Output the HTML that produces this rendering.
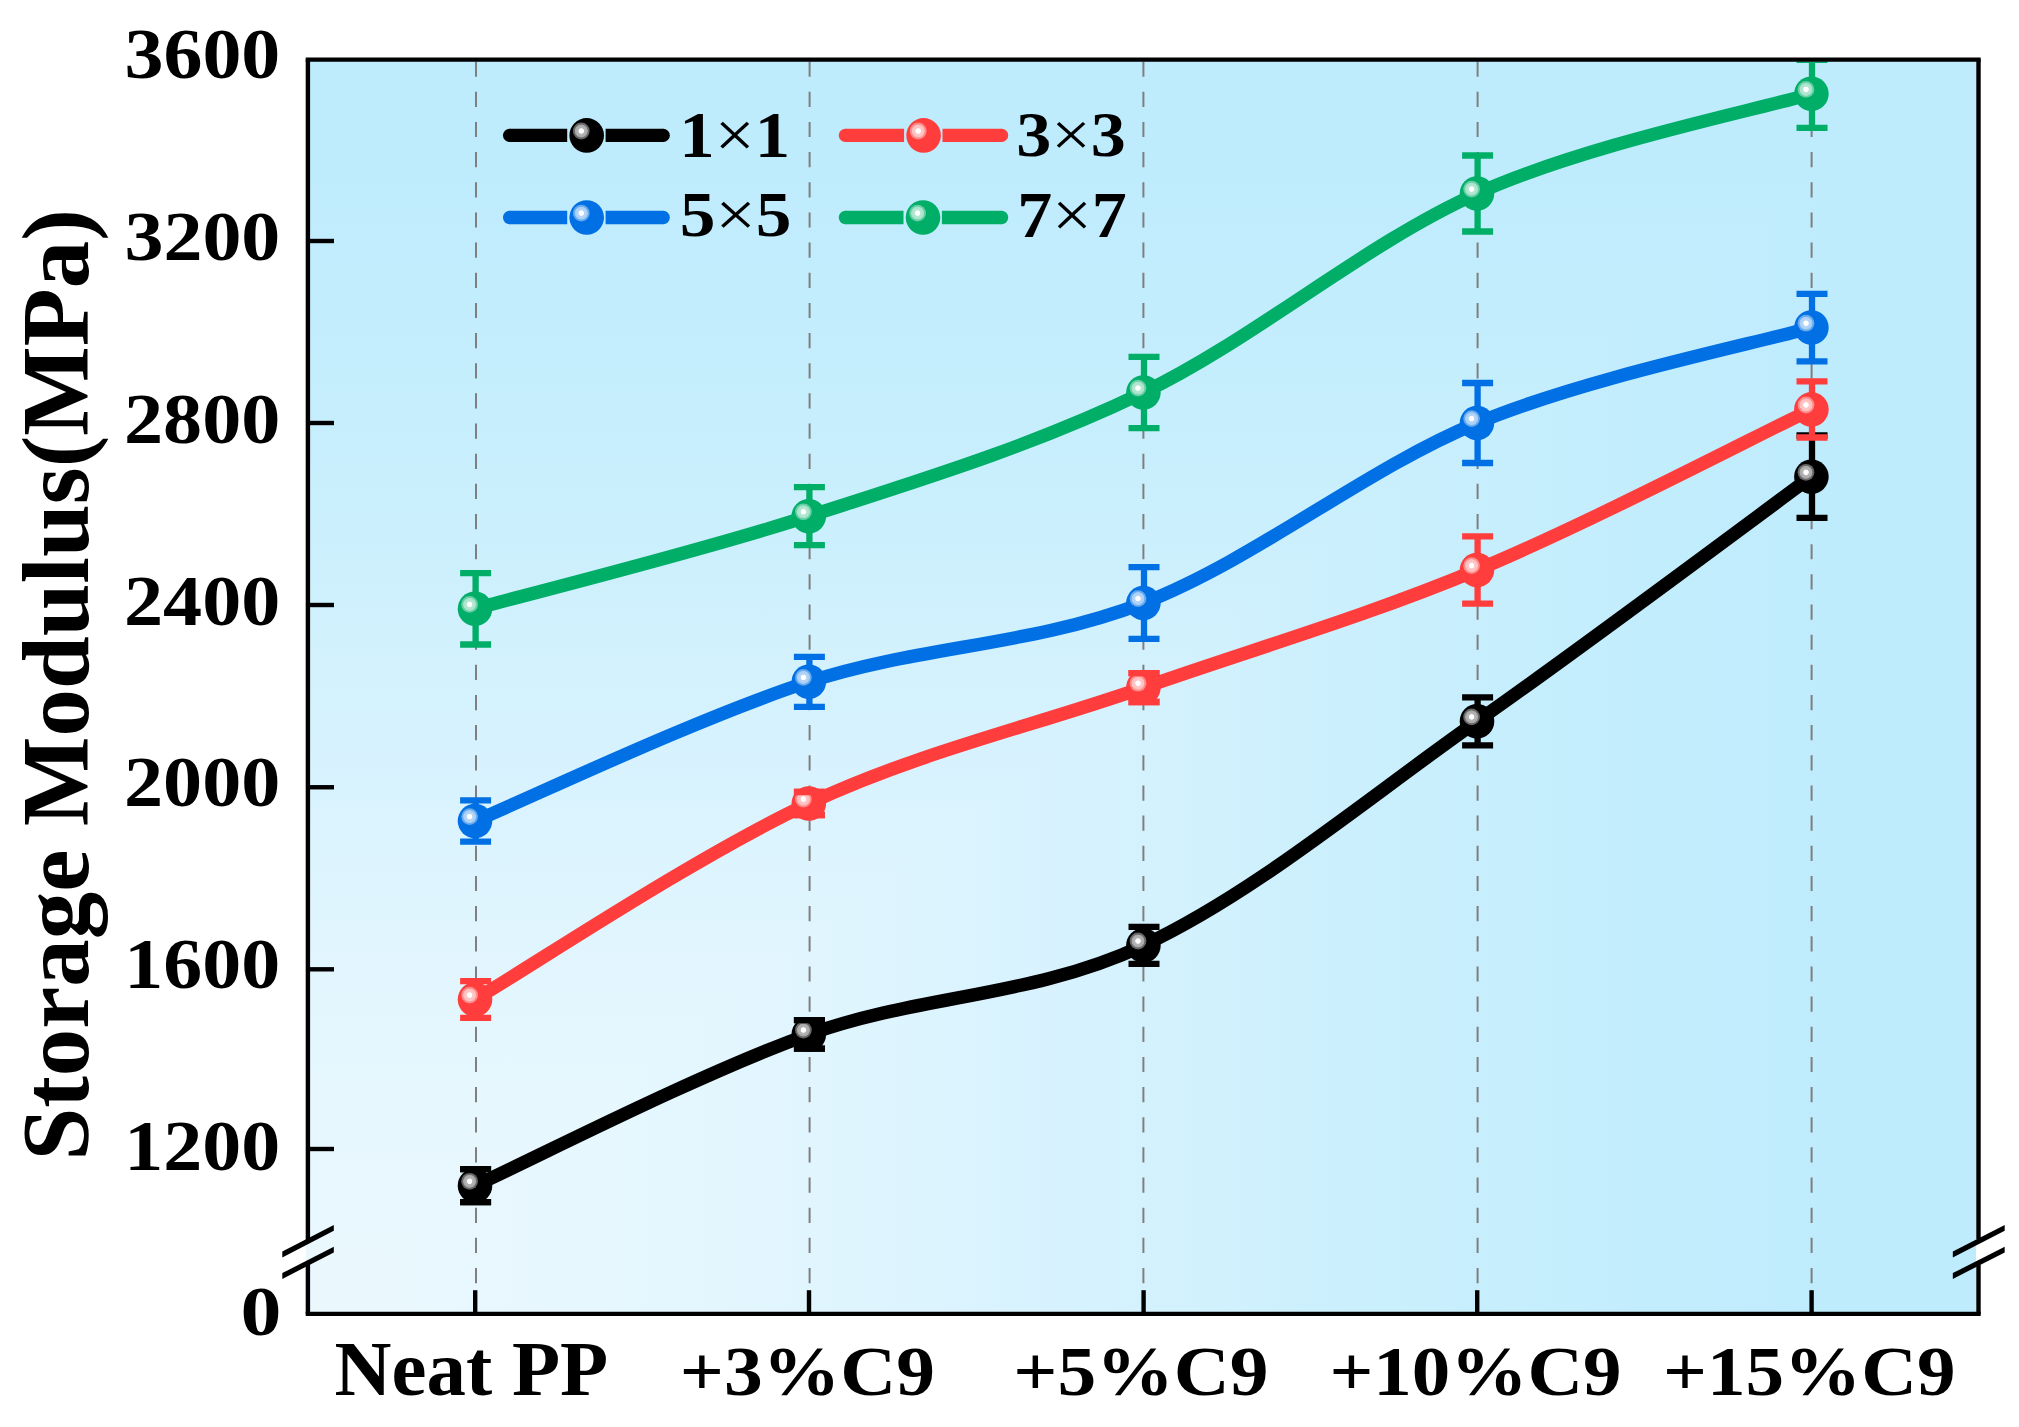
<!DOCTYPE html>
<html lang="en"><head><meta charset="utf-8"><title>Storage Modulus</title>
<style>
html,body{margin:0;padding:0;background:#fff;}
body{width:2019px;height:1427px;overflow:hidden;}
svg{display:block;}
text{font-family:"Liberation Serif","Times New Roman",serif;font-weight:bold;font-size:100px;fill:#000;}
</style></head><body>
<svg width="2019" height="1427" viewBox="0 0 2019 1427">
<defs>
<linearGradient id="gh" gradientUnits="userSpaceOnUse" x1="307.9" y1="0" x2="1978.5" y2="0">
<stop offset="0.0" stop-color="#eaf8fe"/>
<stop offset="0.0417" stop-color="#eaf8fe"/>
<stop offset="0.0833" stop-color="#e9f8fe"/>
<stop offset="0.125" stop-color="#e8f7fe"/>
<stop offset="0.1667" stop-color="#e7f7fe"/>
<stop offset="0.2083" stop-color="#e5f7fe"/>
<stop offset="0.25" stop-color="#e3f6fe"/>
<stop offset="0.2917" stop-color="#e1f5fe"/>
<stop offset="0.3333" stop-color="#def5fe"/>
<stop offset="0.375" stop-color="#dcf4fe"/>
<stop offset="0.4167" stop-color="#d9f3fe"/>
<stop offset="0.4583" stop-color="#d6f2fe"/>
<stop offset="0.5" stop-color="#d4f2fd"/>
<stop offset="0.5417" stop-color="#d1f1fd"/>
<stop offset="0.5833" stop-color="#cef0fd"/>
<stop offset="0.625" stop-color="#cbeffd"/>
<stop offset="0.6667" stop-color="#c9effd"/>
<stop offset="0.7083" stop-color="#c7eefd"/>
<stop offset="0.75" stop-color="#c5eefd"/>
<stop offset="0.7917" stop-color="#c3edfd"/>
<stop offset="0.8333" stop-color="#c1edfd"/>
<stop offset="0.875" stop-color="#c0ecfd"/>
<stop offset="0.9167" stop-color="#bfecfd"/>
<stop offset="0.9583" stop-color="#bfecfd"/>
<stop offset="1.0" stop-color="#bfecfd"/>
</linearGradient>
<linearGradient id="gv" gradientUnits="userSpaceOnUse" x1="0" y1="1313.9" x2="0" y2="59.6">
<stop offset="0.0" stop-color="#eaf8fe"/>
<stop offset="0.0417" stop-color="#eaf8fe"/>
<stop offset="0.0833" stop-color="#e9f8fe"/>
<stop offset="0.125" stop-color="#e8f7fe"/>
<stop offset="0.1667" stop-color="#e7f7fe"/>
<stop offset="0.2083" stop-color="#e5f7fe"/>
<stop offset="0.25" stop-color="#e3f6fe"/>
<stop offset="0.2917" stop-color="#e1f5fe"/>
<stop offset="0.3333" stop-color="#def5fe"/>
<stop offset="0.375" stop-color="#dcf4fe"/>
<stop offset="0.4167" stop-color="#d9f3fe"/>
<stop offset="0.4583" stop-color="#d6f2fe"/>
<stop offset="0.5" stop-color="#d4f2fd"/>
<stop offset="0.5417" stop-color="#d1f1fd"/>
<stop offset="0.5833" stop-color="#cef0fd"/>
<stop offset="0.625" stop-color="#cbeffd"/>
<stop offset="0.6667" stop-color="#c9effd"/>
<stop offset="0.7083" stop-color="#c7eefd"/>
<stop offset="0.75" stop-color="#c5eefd"/>
<stop offset="0.7917" stop-color="#c3edfd"/>
<stop offset="0.8333" stop-color="#c1edfd"/>
<stop offset="0.875" stop-color="#c0ecfd"/>
<stop offset="0.9167" stop-color="#bfecfd"/>
<stop offset="0.9583" stop-color="#bfecfd"/>
<stop offset="1.0" stop-color="#bfecfd"/>
</linearGradient>
<radialGradient id="hl" cx="0.5" cy="0.5" r="0.5">
<stop offset="0" stop-color="#fff" stop-opacity="1"/>
<stop offset="0.28" stop-color="#fff" stop-opacity="1"/>
<stop offset="0.36" stop-color="#fff" stop-opacity="0.72"/>
<stop offset="0.72" stop-color="#fff" stop-opacity="0.66"/>
<stop offset="0.8" stop-color="#fff" stop-opacity="0.42"/>
<stop offset="1" stop-color="#fff" stop-opacity="0.38"/>
</radialGradient>
<clipPath id="plotclip"><rect x="305.7" y="61.50000000000001" width="1675.0" height="1254.3000000000002"/></clipPath>
</defs>
<rect width="2019" height="1427" fill="#fff"/>

<g id="bg">
<rect x="305.9" y="59.6" width="1670.6" height="1254.3000000000002" fill="url(#gv)"/>
<polygon points="305.9,1313.9 1976.5,1313.9 1976.5,59.6" fill="url(#gh)"/>
</g>
<g id="vgrid" stroke="#7f7f7f" stroke-width="2" stroke-dasharray="15.2 14.96" fill="none">
<line x1="476.0" y1="61.6" x2="476.0" y2="1313.9"/>
<line x1="809.6" y1="61.6" x2="809.6" y2="1313.9"/>
<line x1="1143.4" y1="61.6" x2="1143.4" y2="1313.9"/>
<line x1="1477.6" y1="61.6" x2="1477.6" y2="1313.9"/>
<line x1="1811.6" y1="61.6" x2="1811.6" y2="1313.9"/>
</g>
<g id="data" clip-path="url(#plotclip)">
<g id="s-black">
<g stroke="#000000" stroke-width="6.3" fill="none">
<path d="M475.6,1169.2 V1202.2 M460.1,1169.2 h31 M460.1,1202.2 h31"/>
<path d="M809.4,1020.1 V1048.7 M793.9,1020.1 h31 M793.9,1048.7 h31"/>
<path d="M1144.0,926.9 V963.9 M1128.5,926.9 h31 M1128.5,963.9 h31"/>
<path d="M1477.6,697.3 V745.3 M1462.1,697.3 h31 M1462.1,745.3 h31"/>
<path d="M1812.0,435.5 V517.9 M1796.5,435.5 h31 M1796.5,517.9 h31"/>
</g>
<path d="M475.0,1185.7 C530.6,1160.5 697.4,1074.5 808.8,1034.4 C920.2,994.4 1032.0,997.6 1143.4,945.4 C1254.8,893.2 1365.7,799.4 1477.0,721.3 C1588.3,643.2 1755.7,517.5 1811.4,476.7" stroke="#000000" stroke-width="13.3" fill="none" stroke-linejoin="round"/>
<circle cx="475.0" cy="1185.7" r="17.3" fill="#000000"/><circle cx="469.6" cy="1181.3" r="8.4" fill="url(#hl)"/>
<circle cx="808.8" cy="1034.4" r="17.3" fill="#000000"/><circle cx="803.4" cy="1030.0" r="8.4" fill="url(#hl)"/>
<circle cx="1143.4" cy="945.4" r="17.3" fill="#000000"/><circle cx="1138.0" cy="941.0" r="8.4" fill="url(#hl)"/>
<circle cx="1477.0" cy="721.3" r="17.3" fill="#000000"/><circle cx="1471.6" cy="716.9" r="8.4" fill="url(#hl)"/>
<circle cx="1811.4" cy="476.7" r="17.3" fill="#000000"/><circle cx="1806.0" cy="472.3" r="8.4" fill="url(#hl)"/>
<path d="M460.1,1169.2 h31 M460.1,1202.2 h31 M793.9,1020.1 h31 M793.9,1048.7 h31" stroke="#000000" stroke-width="6.3" fill="none"/>
</g>
<g id="s-red">
<g stroke="#ff3d3d" stroke-width="6.3" fill="none">
<path d="M475.6,981.1 V1017.9 M460.1,981.1 h31 M460.1,1017.9 h31"/>
<path d="M809.4,792.0 V815.0 M793.9,792.0 h31 M793.9,815.0 h31"/>
<path d="M1144.0,673.2 V702.0 M1128.5,673.2 h31 M1128.5,702.0 h31"/>
<path d="M1477.6,536.3 V603.7 M1462.1,536.3 h31 M1462.1,603.7 h31"/>
<path d="M1812.0,381.3 V437.5 M1796.5,381.3 h31 M1796.5,437.5 h31"/>
</g>
<path d="M475.0,999.5 C530.6,966.8 697.4,855.5 808.8,803.5 C920.2,751.5 1032.0,726.5 1143.4,687.6 C1254.8,648.7 1365.7,616.4 1477.0,570.0 C1588.3,523.6 1755.7,436.2 1811.4,409.4" stroke="#ff3d3d" stroke-width="13.3" fill="none" stroke-linejoin="round"/>
<circle cx="475.0" cy="999.5" r="17.3" fill="#ff3d3d"/><circle cx="469.6" cy="995.1" r="8.4" fill="url(#hl)"/>
<circle cx="808.8" cy="803.5" r="17.3" fill="#ff3d3d"/><circle cx="803.4" cy="799.1" r="8.4" fill="url(#hl)"/>
<circle cx="1143.4" cy="687.6" r="17.3" fill="#ff3d3d"/><circle cx="1138.0" cy="683.2" r="8.4" fill="url(#hl)"/>
<circle cx="1477.0" cy="570.0" r="17.3" fill="#ff3d3d"/><circle cx="1471.6" cy="565.6" r="8.4" fill="url(#hl)"/>
<circle cx="1811.4" cy="409.4" r="17.3" fill="#ff3d3d"/><circle cx="1806.0" cy="405.0" r="8.4" fill="url(#hl)"/>
<path d="M793.9,792.0 h31 M793.9,815.0 h31 M1128.5,673.2 h31 M1128.5,702.0 h31" stroke="#ff3d3d" stroke-width="6.3" fill="none"/>
</g>
<g id="s-blue">
<g stroke="#0070e4" stroke-width="6.3" fill="none">
<path d="M475.6,800.3 V841.7 M460.1,800.3 h31 M460.1,841.7 h31"/>
<path d="M809.4,656.8 V706.8 M793.9,656.8 h31 M793.9,706.8 h31"/>
<path d="M1144.0,567.2 V638.8 M1128.5,567.2 h31 M1128.5,638.8 h31"/>
<path d="M1477.6,383.0 V463.0 M1462.1,383.0 h31 M1462.1,463.0 h31"/>
<path d="M1812.0,293.9 V361.3 M1796.5,293.9 h31 M1796.5,361.3 h31"/>
</g>
<path d="M475.0,821.0 C530.6,797.8 697.4,718.1 808.8,681.8 C920.2,645.5 1032.0,646.1 1143.4,603.0 C1254.8,559.9 1365.7,468.9 1477.0,423.0 C1588.3,377.1 1755.7,343.5 1811.4,327.6" stroke="#0070e4" stroke-width="13.3" fill="none" stroke-linejoin="round"/>
<circle cx="475.0" cy="821.0" r="17.3" fill="#0070e4"/><circle cx="469.6" cy="816.6" r="8.4" fill="url(#hl)"/>
<circle cx="808.8" cy="681.8" r="17.3" fill="#0070e4"/><circle cx="803.4" cy="677.4" r="8.4" fill="url(#hl)"/>
<circle cx="1143.4" cy="603.0" r="17.3" fill="#0070e4"/><circle cx="1138.0" cy="598.6" r="8.4" fill="url(#hl)"/>
<circle cx="1477.0" cy="423.0" r="17.3" fill="#0070e4"/><circle cx="1471.6" cy="418.6" r="8.4" fill="url(#hl)"/>
<circle cx="1811.4" cy="327.6" r="17.3" fill="#0070e4"/><circle cx="1806.0" cy="323.2" r="8.4" fill="url(#hl)"/>
</g>
<g id="s-green">
<g stroke="#00ae68" stroke-width="6.3" fill="none">
<path d="M475.6,573.1 V644.5 M460.1,573.1 h31 M460.1,644.5 h31"/>
<path d="M809.4,487.2 V545.2 M793.9,487.2 h31 M793.9,545.2 h31"/>
<path d="M1144.0,356.8 V428.2 M1128.5,356.8 h31 M1128.5,428.2 h31"/>
<path d="M1477.6,155.5 V231.5 M1462.1,155.5 h31 M1462.1,231.5 h31"/>
<path d="M1812.0,59.8 V127.8 M1796.5,59.8 h31 M1796.5,127.8 h31"/>
</g>
<path d="M475.0,608.8 C530.6,593.4 697.4,552.2 808.8,516.2 C920.2,480.2 1032.0,446.3 1143.4,392.5 C1254.8,338.7 1365.7,243.3 1477.0,193.5 C1588.3,143.7 1755.7,110.4 1811.4,93.8" stroke="#00ae68" stroke-width="13.3" fill="none" stroke-linejoin="round"/>
<circle cx="475.0" cy="608.8" r="17.3" fill="#00ae68"/><circle cx="469.6" cy="604.4" r="8.4" fill="url(#hl)"/>
<circle cx="808.8" cy="516.2" r="17.3" fill="#00ae68"/><circle cx="803.4" cy="511.8" r="8.4" fill="url(#hl)"/>
<circle cx="1143.4" cy="392.5" r="17.3" fill="#00ae68"/><circle cx="1138.0" cy="388.1" r="8.4" fill="url(#hl)"/>
<circle cx="1477.0" cy="193.5" r="17.3" fill="#00ae68"/><circle cx="1471.6" cy="189.1" r="8.4" fill="url(#hl)"/>
<circle cx="1811.4" cy="93.8" r="17.3" fill="#00ae68"/><circle cx="1806.0" cy="89.4" r="8.4" fill="url(#hl)"/>
</g>
</g>
<g id="legend">
<g><path d="M509.6,135.4 H567.2 M605.6,135.4 H663.2" stroke="#000000" stroke-width="13.3" fill="none"/><circle cx="509.6" cy="135.4" r="6.65" fill="#000000"/><circle cx="663.2" cy="135.4" r="6.65" fill="#000000"/><circle cx="586.7" cy="135.4" r="17.3" fill="#000000"/><circle cx="581.3" cy="131.0" r="8.4" fill="url(#hl)"/><text transform="translate(679.34,156.60) scale(0.7079,0.6485)" >1<tspan font-weight="normal">×</tspan>1</text></g>
<g><path d="M845.4,135.4 H904.1 M942.5,135.4 H1001.6" stroke="#ff3d3d" stroke-width="13.3" fill="none"/><circle cx="845.4" cy="135.4" r="6.65" fill="#ff3d3d"/><circle cx="1001.6" cy="135.4" r="6.65" fill="#ff3d3d"/><circle cx="923.6" cy="135.4" r="17.3" fill="#ff3d3d"/><circle cx="918.2" cy="131.0" r="8.4" fill="url(#hl)"/><text transform="translate(1016.27,155.96) scale(0.7008,0.6364)" >3<tspan font-weight="normal">×</tspan>3</text></g>
<g><path d="M509.6,217.5 H567.2 M605.6,217.5 H663.2" stroke="#0070e4" stroke-width="13.3" fill="none"/><circle cx="509.6" cy="217.5" r="6.65" fill="#0070e4"/><circle cx="663.2" cy="217.5" r="6.65" fill="#0070e4"/><circle cx="586.7" cy="217.5" r="17.3" fill="#0070e4"/><circle cx="581.3" cy="213.1" r="8.4" fill="url(#hl)"/><text transform="translate(679.74,235.96) scale(0.7139,0.6436)" >5<tspan font-weight="normal">×</tspan>5</text></g>
<g><path d="M845.4,217.5 H903.5 M941.9,217.5 H1001.6" stroke="#00ae68" stroke-width="13.3" fill="none"/><circle cx="845.4" cy="217.5" r="6.65" fill="#00ae68"/><circle cx="1001.6" cy="217.5" r="6.65" fill="#00ae68"/><circle cx="923.0" cy="217.5" r="17.3" fill="#00ae68"/><circle cx="917.6" cy="213.1" r="8.4" fill="url(#hl)"/><text transform="translate(1017.27,237.40) scale(0.7002,0.6656)" >7<tspan font-weight="normal">×</tspan>7</text></g>
</g>
<g id="axes" stroke="#000" stroke-width="4.4" fill="none" stroke-linecap="butt">
<path d="M305.7,59.6 H1980.7 M305.7,1313.9 H1980.7"/>
<path d="M307.9,59.6 V1241.3 M307.9,1262.8 V1313.9 M1978.5,59.6 V1241.3 M1978.5,1262.8 V1313.9"/>
<line x1="307.9" y1="241.0" x2="334" y2="241.0"/>
<line x1="307.9" y1="423.0" x2="334" y2="423.0"/>
<line x1="307.9" y1="605.0" x2="334" y2="605.0"/>
<line x1="307.9" y1="787.25" x2="334" y2="787.25"/>
<line x1="307.9" y1="969.3" x2="334" y2="969.3"/>
<line x1="307.9" y1="1149.0" x2="334" y2="1149.0"/>
<line x1="475.2" y1="1313.9" x2="475.2" y2="1290.2"/>
<line x1="809.0" y1="1313.9" x2="809.0" y2="1290.2"/>
<line x1="1143.6000000000001" y1="1313.9" x2="1143.6000000000001" y2="1290.2"/>
<line x1="1477.2" y1="1313.9" x2="1477.2" y2="1290.2"/>
<line x1="1811.6000000000001" y1="1313.9" x2="1811.6000000000001" y2="1290.2"/>
</g>
<rect x="1976.0" y="1239.3" width="7.4" height="25.5" fill="#fff"/>
<g id="breaks" fill="#000" stroke="none">
<polygon points="282.3,1251.6 333.8,1225.0 333.8,1230.8 282.3,1257.4"/>
<polygon points="282.3,1273.1 333.8,1246.7 333.8,1252.5 282.3,1278.9"/>
<polygon points="1952.8,1251.6 2004.7,1225.0 2004.7,1230.8 1952.8,1257.4"/>
<polygon points="1952.8,1273.1 2004.7,1246.7 2004.7,1252.5 1952.8,1278.9"/>
</g>
<g id="yticklabels">
<text transform="translate(124.48,78.39) scale(0.7792,0.7111)" >3600</text>
<text transform="translate(124.48,260.29) scale(0.7792,0.7081)" >3200</text>
<text transform="translate(123.98,443.28) scale(0.7818,0.7244)" >2800</text>
<text transform="translate(123.98,624.98) scale(0.7818,0.7230)" >2400</text>
<text transform="translate(123.98,806.18) scale(0.7818,0.7244)" >2000</text>
<text transform="translate(124.36,988.38) scale(0.7798,0.7185)" >1600</text>
<text transform="translate(124.36,1170.49) scale(0.7798,0.7126)" >1200</text>
<text transform="translate(240.43,1335.10) scale(0.8188,0.7037)" >0</text>
</g>
<g id="xticklabels">
<text transform="translate(334.62,1395.22) scale(0.7883,0.7835)" >Neat PP</text>
<text transform="translate(679.83,1395.02) scale(0.7750,0.7070)" >+3%C9</text>
<text transform="translate(1013.33,1395.02) scale(0.7750,0.7070)" >+5%C9</text>
<text transform="translate(1329.45,1394.92) scale(0.7706,0.7026)" >+10%C9</text>
<text transform="translate(1663.05,1394.92) scale(0.7714,0.7026)" >+15%C9</text>
</g>
<g id="ytitle"><text transform="translate(88.01,1160.58) rotate(-90) scale(0.9490,0.9541)">Storage Modulus(MPa)</text></g>
</svg></body></html>
